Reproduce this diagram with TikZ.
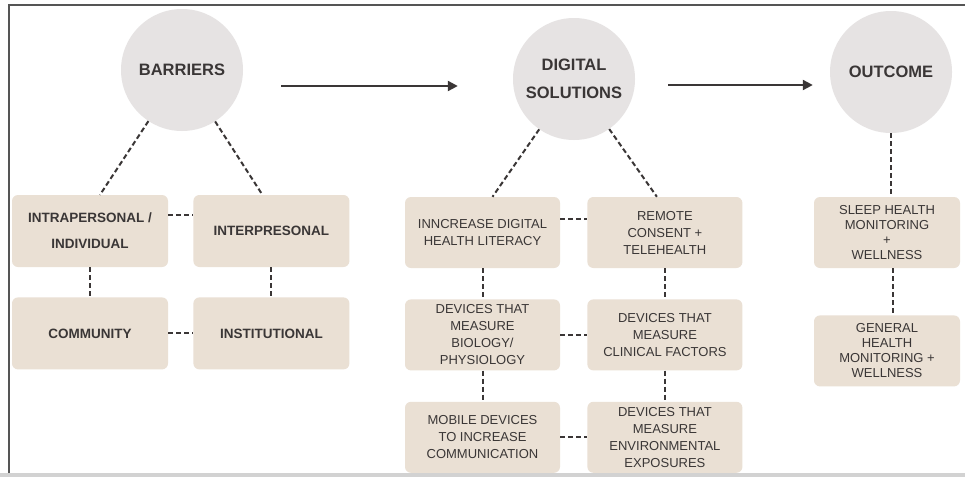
\documentclass[tikz,border=0pt]{standalone}
\usepackage{fontspec}
\setmainfont{Liberation Sans}
\usepackage{xcolor}
\usetikzlibrary{arrows.meta,positioning}
\definecolor{hubgray}{HTML}{E6E3E3}
\definecolor{sand}{HTML}{EAE0D4}
\definecolor{ink}{HTML}{3A3636}
\definecolor{edge}{HTML}{555555}
\definecolor{strip}{HTML}{D2D2D2}

\begin{document}
\begin{tikzpicture}[
  x=1pt, y=-1pt,
  hub/.style={circle, fill=hubgray, minimum size=122pt, inner sep=0pt, align=center,
              text=ink, font=\bfseries\fontsize{16.5}{28}\selectfont},
  barrier/.style={fill=sand, rounded corners=6pt, minimum width=156pt, minimum height=72pt,
              align=center, text=ink, font=\bfseries\fontsize{13.5}{26}\selectfont},
  solution/.style={fill=sand, rounded corners=6pt, minimum width=155pt, minimum height=71pt,
              align=center, text=ink, font=\fontsize{13}{17}\selectfont},
  result/.style={solution, minimum width=146pt, font=\fontsize{13}{15}\selectfont},
  link/.style={draw=ink, line width=2pt, dash pattern=on 5pt off 3pt},
  flow/.style={-{Triangle[length=10pt, width=10pt]}, draw=ink, line width=2.2pt}
]
  \useasboundingbox (0,0) rectangle (965,477);
  \fill[white] (0,0) rectangle (965,477);
  \fill[strip] (0,473) rectangle (965,477);
  \draw[edge, line width=1.8pt] (9,473) -- (9,5) -- (965,5);

  % the three stages
  \node[hub] (barriers) at (182,70) {BARRIERS};
  \node[hub] (digital)  at (574,79) {DIGITAL\\SOLUTIONS};
  \node[hub] (outcome)  at (891,72) {OUTCOME};

  % barriers
  \node[barrier] (intra) at (90,231) {INTRAPERSONAL /\\INDIVIDUAL};
  \node[barrier, right=25pt of intra]     (inter)       {INTERPRESONAL};
  \node[barrier, below=30pt of intra]     (community)   {COMMUNITY};
  \node[barrier, below=30pt of inter]     (institution) {INSTITUTIONAL};

  % digital solutions
  \node[solution] (literacy) at (482.5,232.5) {INNCREASE DIGITAL\\HEALTH LITERACY};
  \node[solution, right=27pt of literacy] (remote)   {REMOTE\\CONSENT +\\TELEHEALTH};
  \node[solution, below=31pt of literacy] (biology)  {DEVICES THAT\\MEASURE\\BIOLOGY/\\PHYSIOLOGY};
  \node[solution, below=31pt of remote]   (clinical) {DEVICES THAT\\MEASURE\\CLINICAL FACTORS};
  \node[solution, below=31pt of biology]  (mobile)   {MOBILE DEVICES\\TO INCREASE\\COMMUNICATION};
  \node[solution, below=31pt of clinical] (environ)  {DEVICES THAT\\MEASURE\\ENVIRONMENTAL\\EXPOSURES};

  % outcomes
  \node[result] (sleep) at (887,232.5) {SLEEP HEALTH\\MONITORING\\+\\WELLNESS};
  \node[result, below=47pt of sleep] (general) {GENERAL\\HEALTH\\MONITORING +\\WELLNESS};

  \draw[flow] ([xshift=38pt,yshift=-16pt]barriers.east) coordinate (flowA)
              -- ([xshift=-55pt]digital.west |- flowA);
  \draw[flow] ([xshift=33pt,yshift=-6pt]digital.east) coordinate (flowB)
              -- ([xshift=-17pt]outcome.west |- flowB);

  \draw[link] (barriers) -- ([xshift=10pt]intra.north);
  \draw[link] (barriers) -- ([xshift=-9pt]inter.north);
  \draw[link] ([yshift=16pt]intra.east) -- ([yshift=16pt]inter.west);
  \draw[link] (intra) -- (community);
  \draw[link] (inter) -- (institution);
  \draw[link] (community) -- (institution);

  \draw[link] (digital) -- ([xshift=10pt]literacy.north);
  \draw[link] (digital) -- ([xshift=-8pt]remote.north);
  \draw[link] ([yshift=14pt]literacy.east) -- ([yshift=14pt]remote.west);
  \draw[link] (literacy) -- (biology);
  \draw[link] (biology) -- (mobile);
  \draw[link] (remote) -- (clinical);
  \draw[link] (clinical) -- (environ);
  \draw[link] (biology) -- (clinical);
  \draw[link] (mobile) -- (environ);

  \draw[link] (outcome.south) -- (outcome.south |- sleep.north);
  \draw[link] ([xshift=6pt]sleep.south) -- ([xshift=6pt]general.north);
\end{tikzpicture}
\end{document}
